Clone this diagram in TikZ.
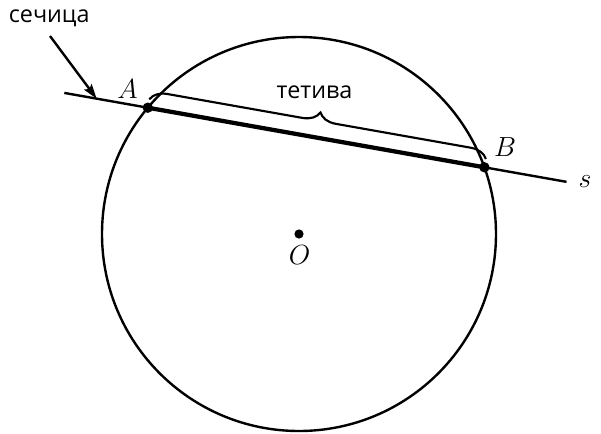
\documentclass[tikz,border=0pt]{standalone}
\usepackage{fontspec}
\setsansfont{Open Sans}
\usetikzlibrary{calc,decorations.pathreplacing,arrows.meta}
\begin{document}
\begin{tikzpicture}[x=0.75pt,y=-0.75pt,
  thinline/.style={line width=1.8pt},
  chordline/.style={line width=3.2pt},
  dotmark/.style={fill=black},
  sanslabel/.style={inner sep=0pt,anchor=base,font=\sffamily\fontsize{17.5}{20}\selectfont},
  mathlabel/.style={inner sep=0pt,anchor=base,font=\fontsize{21}{25}\selectfont},
  bracestyle/.style={line width=1.6pt,decorate,decoration={brace,amplitude=12.75pt}}]
\useasboundingbox (0,0) rectangle (601,433);
\coordinate (O) at (299,234);
\coordinate (A) at (147.8,107.7);
\coordinate (B) at (484.4,167.3);
\coordinate (S1) at ($(A)!-0.248!(B)$);
\coordinate (S2) at ($(B)!-0.244!(A)$);
\coordinate (SecTip) at ($(A)!-0.152!(B)$);
\coordinate (BrA) at ($(A)!6.3pt!90:(B)$);
\coordinate (BrB) at ($(B)!6.3pt!-90:(A)$);
% circle
\draw[thinline] (O) circle (197);
% secant line
\draw[thinline] (S1) -- (S2);
% chord
\draw[chordline] (A) -- (B);
% brace
\draw[bracestyle] (BrA) -- (BrB);
% dots
\fill[dotmark] (A) circle (5.2);
\fill[dotmark] (B) circle (5.2);
\fill[dotmark] (O) circle (4.6);
% labels
\node[mathlabel] (lA) at (127.5,98.3) {$A$};
\node[mathlabel] (lB) at (505,156.7) {$B$};
\node[mathlabel] (ls) at (585,187) {$s$};
\node[mathlabel] (lO) at (299.5,264.5) {$O$};
\node[sanslabel] (tet) at (314.5,98) {тетива};
\node[sanslabel] (sec) at (49.2,22.7) {сечица};
\coordinate (ArrStart) at (50,36);
\draw[thinline,-{Stealth[length=11pt,width=7pt,inset=2pt]}] (ArrStart) -- (SecTip);
\end{tikzpicture}
\end{document}
